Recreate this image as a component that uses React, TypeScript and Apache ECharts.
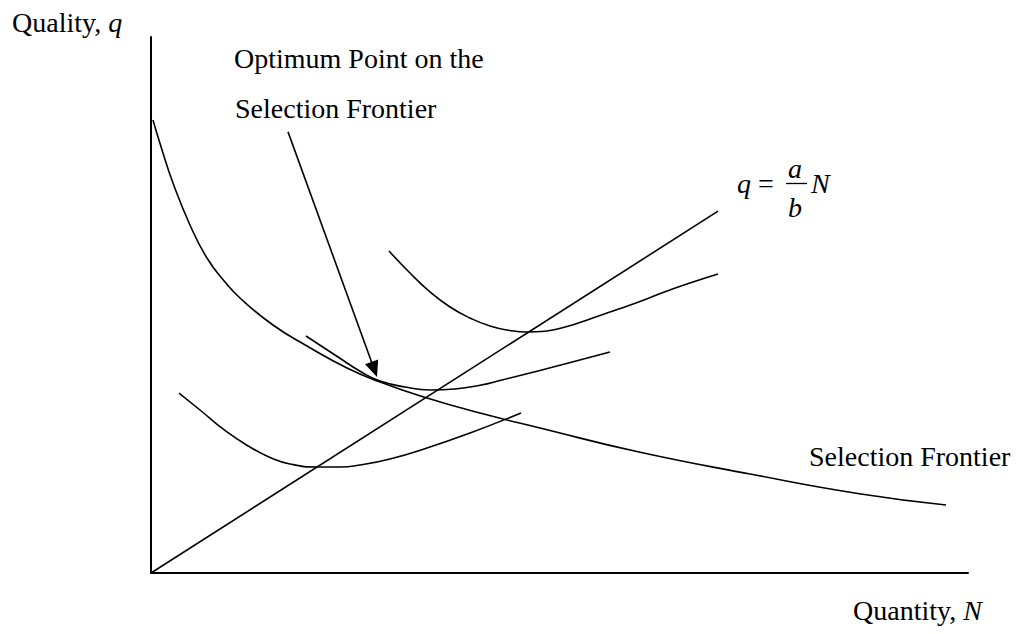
import React, { useEffect, useRef } from "react";
import * as echarts from "echarts";

// Diagram values in abstract units (N: 0-100, q: 0-100)
const rayLine: number[][] = [
  [0, 0],
  [69.4, 67.5],
];

const selectionFrontier: number[][] = [
  [0.24, 84.51], [1.35, 78.92], [2.69, 72.76], [4.77, 64.93], [6.85, 58.77],
  [9.06, 54.29], [10.89, 51.31], [14.93, 46.27], [19.09, 42.35], [23.99, 38.25],
  [28.03, 35.63], [33.78, 32.65], [40.27, 29.85], [47.61, 27.05], [59.73, 22.57],
  [73.32, 18.47], [86.9, 14.74], [97.31, 12.69],
];

const indifferenceLow: number[][] = [
  [3.43, 33.58], [6.0, 30.41], [9.3, 26.31], [12.12, 23.51], [14.57, 21.55],
  [17.01, 20.34], [20.32, 19.78], [23.13, 19.78], [25.58, 20.15], [29.25, 21.27],
  [33.78, 23.32], [39.05, 26.12], [45.29, 29.85],
];

const indifferenceMid: number[][] = [
  [18.97, 44.22], [22.52, 40.67], [25.95, 37.31], [28.03, 35.82], [31.09, 34.7],
  [34.15, 34.14], [37.21, 34.33], [40.27, 35.02], [42.96, 36.01], [47.61, 37.78],
  [51.9, 39.5], [56.18, 41.23],
];

const indifferenceHigh: number[][] = [
  [29.13, 60.07], [31.7, 55.97], [34.15, 52.43], [36.6, 49.63], [39.05, 47.57],
  [41.49, 46.08], [43.94, 45.24], [46.02, 44.96], [48.23, 45.11], [50.92, 45.99],
  [53.73, 47.39], [56.55, 48.88], [59.85, 50.65], [62.67, 52.33], [65.97, 54.1],
  [69.4, 55.78],
];

const arrowFrom: number[] = [16.77, 82.3];
const arrowTo: number[] = [27.33, 37.97];

const yAxisTitle = "Quality, ";
const yAxisVar = "q";
const xAxisTitle = "Quantity, ";
const xAxisVar = "N";
const optimumLabel = ["Optimum Point on the", "Selection Frontier"];
const frontierLabel = "Selection Frontier";

export default function App() {
  const ref = useRef<HTMLDivElement>(null);

  useEffect(() => {
    const chart = echarts.init(ref.current!, null, { renderer: "svg" });
    const FONT = '"Liberation Serif", "Times New Roman", Times, serif';
    const FS = 28;
    const lineStyle = { color: "#000", width: 1.6 };
    const curve = (name: string, data: number[][], smooth: boolean | number = 0.5) => ({
      type: "line",
      name,
      data,
      smooth,
      showSymbol: false,
      symbol: "none",
      lineStyle,
      silent: true,
      z: 3,
    });

    const txt = (
      text: string,
      x: number,
      y: number,
      opts: { italic?: boolean; align?: string; rich?: any } = {}
    ) => ({
      type: "text",
      x,
      y,
      silent: true,
      style: {
        text,
        fontFamily: FONT,
        fontSize: FS,
        fontStyle: opts.italic ? "italic" : "normal",
        fill: "#000",
        align: opts.align || "left",
        verticalAlign: "middle",
        textAlign: opts.align || "left",
        textVerticalAlign: "middle",
        rich: opts.rich,
      },
    });

    const italicRich = {
      i: { fontFamily: FONT, fontSize: FS, fontStyle: "italic", fill: "#000" },
    };

    const axisCommon = {
      type: "value",
      min: 0,
      max: 100,
      axisLine: { show: true, onZero: false, lineStyle: { color: "#000", width: 2 } },
      axisTick: { show: false },
      axisLabel: { show: false },
      splitLine: { show: false },
    };

    chart.setOption({
      animation: false,
      backgroundColor: "#ffffff",
      grid: { left: 151, right: 50, top: 37, bottom: 61 },
      xAxis: { ...axisCommon },
      yAxis: { ...axisCommon },
      series: [
        {
          ...curve("ray", rayLine, false),
          markLine: {
            silent: true,
            symbol: ["none", "triangle"],
            symbolSize: [14, 16],
            label: { show: false },
            lineStyle: { color: "#000", width: 1.6, type: "solid" },
            emphasis: { disabled: true },
            data: [[{ coord: arrowFrom }, { coord: arrowTo }]],
          },
        },
        curve("frontier", selectionFrontier),
        curve("low", indifferenceLow),
        curve("mid", indifferenceMid),
        curve("high", indifferenceHigh),
      ],
      graphic: [
        txt(yAxisTitle + "{i|" + yAxisVar + "}", 12, 22.5, { rich: italicRich }),
        txt(optimumLabel[0], 234, 58.5),
        txt(optimumLabel[1], 235, 108.5),
        txt(frontierLabel, 809, 456.5),
        txt(xAxisTitle + "{i|" + xAxisVar + "}", 853, 610.5, { rich: italicRich }),
        txt("q", 737, 183.5, { italic: true }),
        txt("=", 758, 183.5),
        txt("a", 795, 168.5, { italic: true, align: "center" }),
        {
          type: "line",
          silent: true,
          shape: { x1: 786, y1: 183.5, x2: 807, y2: 183.5 },
          style: { stroke: "#000", lineWidth: 1.3 },
        },
        txt("b", 795, 207.5, { italic: true, align: "center" }),
        txt("N", 811, 183.5, { italic: true }),
      ],
    });

    return () => chart.dispose();
  }, []);

  return (
    <div
      ref={ref}
      style={{ position: "fixed", left: 0, top: 0, width: 1018, height: 634, background: "#fff" }}
    />
  );
}
